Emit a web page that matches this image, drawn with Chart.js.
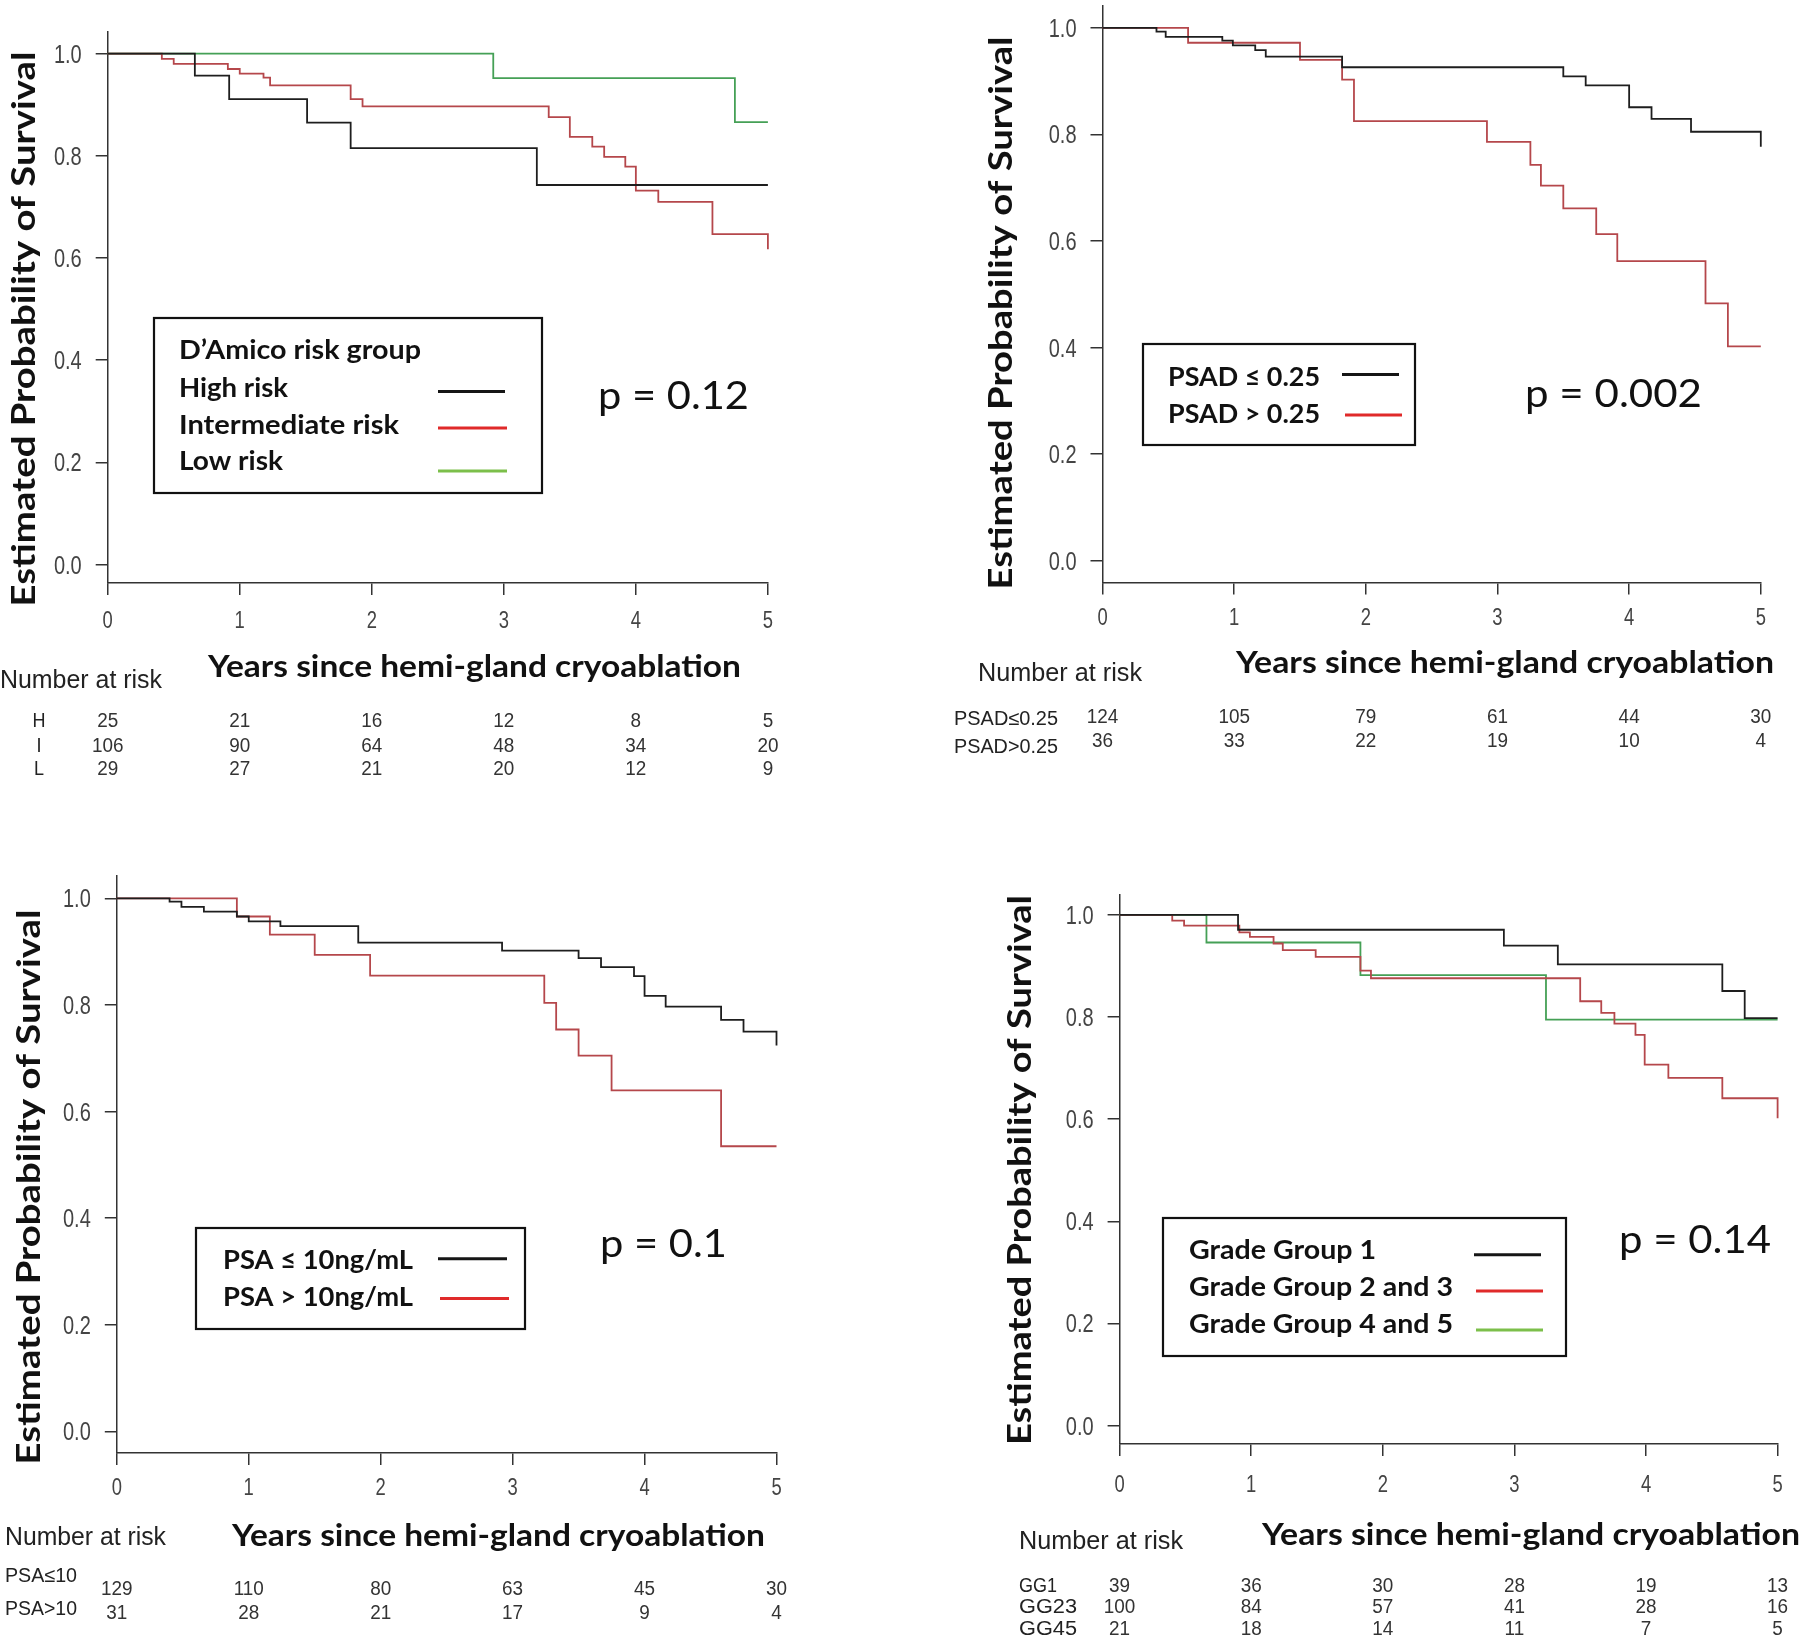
<!DOCTYPE html>
<html>
<head>
<meta charset="utf-8">
<script src="https://cdn.jsdelivr.net/npm/chart.js@4.4.1/dist/chart.umd.min.js"></script>
<style>
  html, body { margin: 0; padding: 0; background: #fff; }
  #page { position: relative; width: 1800px; height: 1640px; overflow: hidden; }
  #page canvas { position: absolute; left: 0; top: 0; }
</style>
</head>
<body>
<div id="page"></div>
<script>
// ---- data ----
const years = [0, 1, 2, 3, 4, 5];
const yTicks = [0, 0.2, 0.4, 0.6, 0.8, 1.0];

// D'Amico risk group
const highRiskT = [0, 0.66, 0.92, 1.51, 1.84, 3.25, 5];
const highRiskS = [1, 0.957, 0.911, 0.865, 0.815, 0.743, 0.743];
const interRiskT = [0, 0.41, 0.50, 0.91, 1.00, 1.18, 1.23, 1.84, 1.93, 3.34, 3.50, 3.67, 3.76, 3.92, 4.00, 4.17, 4.58, 5, 5];
const interRiskS = [1, 0.990, 0.980, 0.970, 0.961, 0.953, 0.938, 0.911, 0.897, 0.876, 0.837, 0.818, 0.798, 0.779, 0.732, 0.710, 0.647, 0.647, 0.617];
const lowRiskT = [0, 2.92, 4.75, 5];
const lowRiskS = [1, 0.952, 0.866, 0.866];
const riskH = [25, 21, 16, 12, 8, 5];
const riskI = [106, 90, 64, 48, 34, 20];
const riskL = [29, 27, 21, 20, 12, 9];

// PSA density
const psadLowT = [0, 0.41, 0.48, 0.91, 0.99, 1.16, 1.24, 1.82, 3.50, 3.67, 4.00, 4.17, 4.47, 5, 5];
const psadLowS = [1, 0.993, 0.983, 0.976, 0.967, 0.958, 0.946, 0.926, 0.909, 0.892, 0.851, 0.829, 0.805, 0.805, 0.777];
const psadHighT = [0, 0.65, 1.50, 1.82, 1.91, 2.92, 3.25, 3.33, 3.50, 3.75, 3.91, 4.58, 4.75, 5];
const psadHighS = [1, 0.972, 0.940, 0.903, 0.825, 0.786, 0.743, 0.704, 0.661, 0.613, 0.562, 0.483, 0.402, 0.402];
const riskPsadLow = [124, 105, 79, 61, 44, 30];
const riskPsadHigh = [36, 33, 22, 19, 10, 4];

// PSA
const psaLowT = [0, 0.40, 0.49, 0.66, 0.91, 1.00, 1.24, 1.83, 2.92, 3.50, 3.67, 3.92, 4.00, 4.16, 4.58, 4.75, 5, 5];
const psaLowS = [1, 0.994, 0.984, 0.975, 0.966, 0.957, 0.948, 0.917, 0.902, 0.888, 0.871, 0.854, 0.817, 0.797, 0.772, 0.750, 0.750, 0.724];
const psaHighT = [0, 0.91, 1.16, 1.50, 1.92, 3.24, 3.33, 3.50, 3.75, 4.58, 5];
const psaHighS = [1, 0.966, 0.932, 0.894, 0.855, 0.804, 0.754, 0.705, 0.640, 0.535, 0.535];
const riskPsaLow = [129, 110, 80, 63, 45, 30];
const riskPsaHigh = [31, 28, 21, 17, 9, 4];

// Grade group
const gg1T = [0, 0.90, 2.92, 3.33, 4.58, 4.75, 5];
const gg1S = [1, 0.971, 0.940, 0.903, 0.851, 0.798, 0.798];
const gg23T = [0, 0.40, 0.49, 0.91, 0.99, 1.17, 1.24, 1.49, 1.83, 1.91, 3.50, 3.66, 3.76, 3.92, 3.99, 4.17, 4.58, 5, 5];
const gg23S = [1, 0.989, 0.979, 0.966, 0.957, 0.944, 0.931, 0.918, 0.891, 0.876, 0.831, 0.808, 0.787, 0.765, 0.707, 0.681, 0.641, 0.641, 0.602];
const gg45T = [0, 0.66, 1.83, 3.24, 5];
const gg45S = [1, 0.946, 0.882, 0.795, 0.795];
const riskGG1 = [39, 36, 30, 28, 19, 13];
const riskGG23 = [100, 84, 57, 41, 28, 16];
const riskGG45 = [21, 18, 14, 11, 7, 5];

// ---- styles ----
const BOLD = 'Lato, "Open Sans", sans-serif';
const ARIAL = '"Liberation Sans", Arial, sans-serif';
const NARROW = 0.8; // horizontal squeeze to mimic a narrow face
const BLACK = '#1e1e1e', RED = '#b5474b', GREEN = '#45a056';
const LEG_BLACK = '#151515', LEG_RED = '#e02a2a', LEG_GREEN = '#7cbf4a';
const Y_TITLE = 'Estimated Probability of Survival';
const X_TITLE = 'Years since hemi-gland cryoablation';

function txt(ctx, s, x, y, o) {
  ctx.save();
  ctx.font = (o.weight || 'normal') + ' ' + o.size + 'px ' + o.family;
  ctx.fillStyle = o.color || '#111';
  ctx.textBaseline = 'alphabetic';
  ctx.textAlign = o.align || 'left';
  ctx.translate(x, y);
  if (o.rotate) ctx.rotate(o.rotate);
  if (o.width) ctx.scale(o.width / ctx.measureText(s).width, 1);
  else if (o.sx) ctx.scale(o.sx, 1);
  ctx.fillText(s, 0, 0);
  ctx.restore();
}

const extras = (p) => ({
  id: 'extras',
  afterDraw(chart) {
    const ctx = chart.ctx;
    const xs = chart.scales.x;
    const ys = chart.scales.y;
    const area = chart.chartArea;

    // tick labels, placed with the chart's own scales
    yTicks.forEach((v) => {
      txt(ctx, v.toFixed(1), area.left - 26, ys.getPixelForValue(v) + 9, { size: 25, family: ARIAL, color: '#444', align: 'right', sx: NARROW });
    });
    years.forEach((v) => {
      txt(ctx, String(v), xs.getPixelForValue(v), area.bottom + p.xLab, { size: 23, family: ARIAL, color: '#444', align: 'center', sx: NARROW });
    });

    txt(ctx, Y_TITLE, p.yTitle[0], p.yTitle[1], { size: 33, weight: 'bold', family: BOLD, align: 'center', rotate: -Math.PI / 2, width: p.yTitle[2] });
    txt(ctx, X_TITLE, p.xTitle[0], p.xTitle[1], { size: 31, weight: 'bold', family: BOLD, width: p.xTitle[2] });
    txt(ctx, 'Number at risk', p.nar[0], p.nar[1], { size: 25, family: ARIAL, color: '#222', width: p.nar[2] });
    p.rows.forEach((r) => {
      txt(ctx, r.label, r.lx, r.ly, { size: 20, family: ARIAL, color: '#222', align: r.la || 'left', width: r.lw, sx: 0.9 });
      r.values.forEach((v, i) => {
        txt(ctx, String(v), xs.getPixelForValue(years[i]), r.vy, { size: 19.5, family: ARIAL, color: '#333', align: 'center', sx: 0.97 });
      });
    });

    const b = p.legend.box;
    ctx.save();
    ctx.strokeStyle = '#111';
    ctx.lineWidth = 2.2;
    ctx.strokeRect(b[0], b[1], b[2], b[3]);
    ctx.restore();
    if (p.legend.title) {
      const t = p.legend.title;
      txt(ctx, t.text, t.x, t.y, { size: 26, weight: 'bold', family: BOLD, width: t.w });
    }
    p.legend.items.forEach((it) => {
      txt(ctx, it.text, it.x, it.y, { size: 26, weight: 'bold', family: BOLD, width: it.w });
      ctx.save();
      ctx.strokeStyle = it.color;
      ctx.lineWidth = 3;
      ctx.beginPath();
      ctx.moveTo(it.line[0], it.line[2]);
      ctx.lineTo(it.line[1], it.line[2]);
      ctx.stroke();
      ctx.restore();
    });
    txt(ctx, p.pval[0], p.pval[1], p.pval[2], { size: 39, family: BOLD, color: '#111', width: p.pval[3] });
  }
});

function makePanel(p) {
  const canvas = document.createElement('canvas');
  canvas.width = 1800;
  canvas.height = 1640;
  canvas.style.width = '1800px';
  canvas.style.height = '1640px';
  document.getElementById('page').appendChild(canvas);

  const datasets = p.series.map((s) => ({
    label: s.label,
    data: s.t.map((t, i) => ({ x: t, y: s.s[i] })),
    borderColor: s.color,
    borderWidth: 1.8,
    stepped: 'before',
    pointRadius: 0,
    fill: false,
    clip: 4,
  }));

  return new Chart(canvas, {
    type: 'line',
    data: { datasets },
    options: {
      responsive: false,
      animation: false,
      devicePixelRatio: 1,
      layout: { padding: { left: 0, top: p.top, right: 1800 - p.x5, bottom: 0 } },
      plugins: { legend: { display: false }, tooltip: { enabled: false } },
      scales: {
        x: {
          type: 'linear',
          min: 0,
          max: 5,
          ticks: { stepSize: 1, display: false },
          grid: { drawOnChartArea: false, tickLength: 12, color: '#333', lineWidth: 1.5 },
          border: { color: '#333', width: 1.5 },
          afterFit: (s) => { s.height = 1640 - p.axisY; s.paddingLeft = 0; s.paddingRight = 0; },
        },
        y: {
          min: p.yMin,
          max: p.yMax,
          afterBuildTicks: (s) => { s.ticks = yTicks.map((v) => ({ value: v })); },
          ticks: { display: false },
          grid: { drawOnChartArea: false, tickLength: 12, color: '#333', lineWidth: 1.5 },
          border: { color: '#333', width: 1.5 },
          afterFit: (s) => { s.width = p.x0; s.paddingTop = 0; s.paddingBottom = 0; },
        },
      },
    },
    plugins: [extras(p)],
  });
}

// ---- panels ----
makePanel({
  x0: 107.7, x5: 767.9, top: 31.7, axisY: 583, yMin: -0.036, yMax: 1.043, xLab: 45,
  series: [
    { label: 'High risk', t: highRiskT, s: highRiskS, color: BLACK },
    { label: 'Intermediate risk', t: interRiskT, s: interRiskS, color: RED },
    { label: 'Low risk', t: lowRiskT, s: lowRiskS, color: GREEN },
  ],
  yTitle: [35, 329, 555],
  xTitle: [208, 677, 533],
  nar: [0, 688, 162],
  rows: [
    { label: 'H', lx: 39, ly: 727, la: 'center', values: riskH, vy: 727 },
    { label: 'I', lx: 39, ly: 752, la: 'center', values: riskI, vy: 752 },
    { label: 'L', lx: 39, ly: 775, la: 'center', values: riskL, vy: 775 },
  ],
  legend: {
    box: [154, 318, 388, 175],
    title: { text: 'D\u2019Amico risk group', x: 179, y: 359, w: 242 },
    items: [
      { text: 'High risk', x: 179, y: 397, w: 109, color: LEG_BLACK, line: [438, 505, 391.5] },
      { text: 'Intermediate risk', x: 179, y: 434, w: 220, color: LEG_RED, line: [438, 507, 428] },
      { text: 'Low risk', x: 179, y: 470, w: 104, color: LEG_GREEN, line: [438, 507, 471] },
    ],
  },
  pval: ['p = 0.12', 598, 409, 151],
});

makePanel({
  x0: 1102.5, x5: 1760.8, top: 6, axisY: 582.5, yMin: -0.041, yMax: 1.041, xLab: 42.5,
  series: [
    { label: 'PSAD \u2264 0.25', t: psadLowT, s: psadLowS, color: BLACK },
    { label: 'PSAD > 0.25', t: psadHighT, s: psadHighS, color: RED },
  ],
  yTitle: [1012, 313, 553],
  xTitle: [1236, 673, 538],
  nar: [978, 681, 164],
  rows: [
    { label: 'PSAD\u22640.25', lx: 954, ly: 725, lw: 104, values: riskPsadLow, vy: 723 },
    { label: 'PSAD>0.25', lx: 954, ly: 753, lw: 104, values: riskPsadHigh, vy: 747 },
  ],
  legend: {
    box: [1143, 344, 272, 101],
    items: [
      { text: 'PSAD \u2264 0.25', x: 1168, y: 386, w: 152, color: LEG_BLACK, line: [1342, 1399, 374.5] },
      { text: 'PSAD > 0.25', x: 1168, y: 422.5, w: 152, color: LEG_RED, line: [1345, 1402, 415] },
    ],
  },
  pval: ['p = 0.002', 1525, 406.7, 177],
});

makePanel({
  x0: 116.8, x5: 776.5, top: 876, axisY: 1453, yMin: -0.0405, yMax: 1.042, xLab: 42,
  series: [
    { label: 'PSA \u2264 10ng/mL', t: psaLowT, s: psaLowS, color: BLACK },
    { label: 'PSA > 10ng/mL', t: psaHighT, s: psaHighS, color: RED },
  ],
  yTitle: [40, 1187, 555],
  xTitle: [232, 1546, 533],
  nar: [5, 1545, 161],
  rows: [
    { label: 'PSA\u226410', lx: 5, ly: 1582, lw: 72, values: riskPsaLow, vy: 1595 },
    { label: 'PSA>10', lx: 5, ly: 1615, lw: 72, values: riskPsaHigh, vy: 1619 },
  ],
  legend: {
    box: [196, 1228, 329, 101],
    items: [
      { text: 'PSA \u2264 10ng/mL', x: 223, y: 1268.7, w: 190, color: LEG_BLACK, line: [438, 507, 1258.8] },
      { text: 'PSA > 10ng/mL', x: 223, y: 1306.4, w: 190, color: LEG_RED, line: [440, 509, 1298.5] },
    ],
  },
  pval: ['p = 0.1', 600, 1257, 127],
});

makePanel({
  x0: 1119.6, x5: 1777.6, top: 895, axisY: 1444, yMin: -0.036, yMax: 1.039, xLab: 48,
  series: [
    { label: 'Grade Group 1', t: gg1T, s: gg1S, color: BLACK },
    { label: 'Grade Group 2 and 3', t: gg23T, s: gg23S, color: RED },
    { label: 'Grade Group 4 and 5', t: gg45T, s: gg45S, color: GREEN },
  ],
  yTitle: [1031, 1170, 550],
  xTitle: [1262, 1545, 538],
  nar: [1019, 1549, 164],
  rows: [
    { label: 'GG1', lx: 1019, ly: 1592, lw: 38, values: riskGG1, vy: 1592 },
    { label: 'GG23', lx: 1019, ly: 1613, lw: 58, values: riskGG23, vy: 1613 },
    { label: 'GG45', lx: 1019, ly: 1635, lw: 58, values: riskGG45, vy: 1635 },
  ],
  legend: {
    box: [1163, 1218, 403, 138],
    items: [
      { text: 'Grade Group 1', x: 1189, y: 1258.8, w: 187, color: LEG_BLACK, line: [1474, 1541, 1254.8] },
      { text: 'Grade Group 2 and 3', x: 1189, y: 1295.7, w: 264, color: LEG_RED, line: [1476, 1543, 1291] },
      { text: 'Grade Group 4 and 5', x: 1189, y: 1333, w: 264, color: LEG_GREEN, line: [1476, 1543, 1330] },
    ],
  },
  pval: ['p = 0.14', 1619, 1252.8, 152],
});
</script>
</body>
</html>
